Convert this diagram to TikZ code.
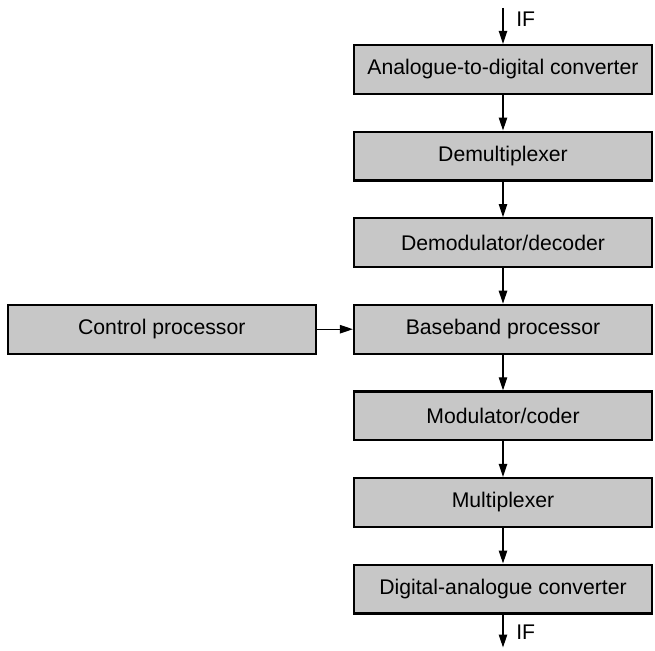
\documentclass[tikz,border=0pt]{standalone}
\usepackage{fontspec}
\setmainfont{Liberation Sans}
\usepackage{tikz}
\usetikzlibrary{arrows.meta, positioning}

\begin{document}
\begin{tikzpicture}[
  node distance=17.8pt and 18pt,
  block/.style={rectangle, draw, line width=1.1pt, fill=black!22, align=center, minimum width=149pt, minimum height=24.4pt, font=\fontsize{10.6}{12}\selectfont},
  arrow/.style={-{Triangle[length=6.5pt,width=4.2pt]}, line width=0.6pt},
  sig/.style={font=\fontsize{10.6}{12}\selectfont}
]
\useasboundingbox (0,0) rectangle (327.5pt,-325pt);

% Main chain
\node[block] (adc) at (251.5pt,-34.7pt) {Analogue-to-digital converter};
\node[block, below=of adc] (demux) {Demultiplexer};
\node[block, below=of demux] (demod) {Demodulator/decoder};
\node[block, below=of demod] (bb) {Baseband processor};
\node[block, below=of bb] (mod) {Modulator/coder};
\node[block, below=of mod] (mux) {Multiplexer};
\node[block, below=of mux] (dac) {Digital-analogue converter};

% Control side
\node[block, minimum width=154pt, left=of bb] (ctrl) {Control processor};

% IF ends
\coordinate[above=18pt of adc.north] (ifin);
\coordinate[below=16.5pt of dac.south] (ifout);

% Arrows
\draw[arrow] (ifin) -- node[sig, right=3pt, pos=0.3] {IF} (adc);
\draw[arrow] (adc) -- (demux);
\draw[arrow] (demux) -- (demod);
\draw[arrow] (demod) -- (bb);
\draw[arrow] (bb) -- (mod);
\draw[arrow] (mod) -- (mux);
\draw[arrow] (mux) -- (dac);
\draw[arrow] (dac) -- node[sig, right=3pt, pos=0.55] {IF} (ifout);
\draw[arrow] (ctrl) -- (bb);

\end{tikzpicture}
\end{document}
